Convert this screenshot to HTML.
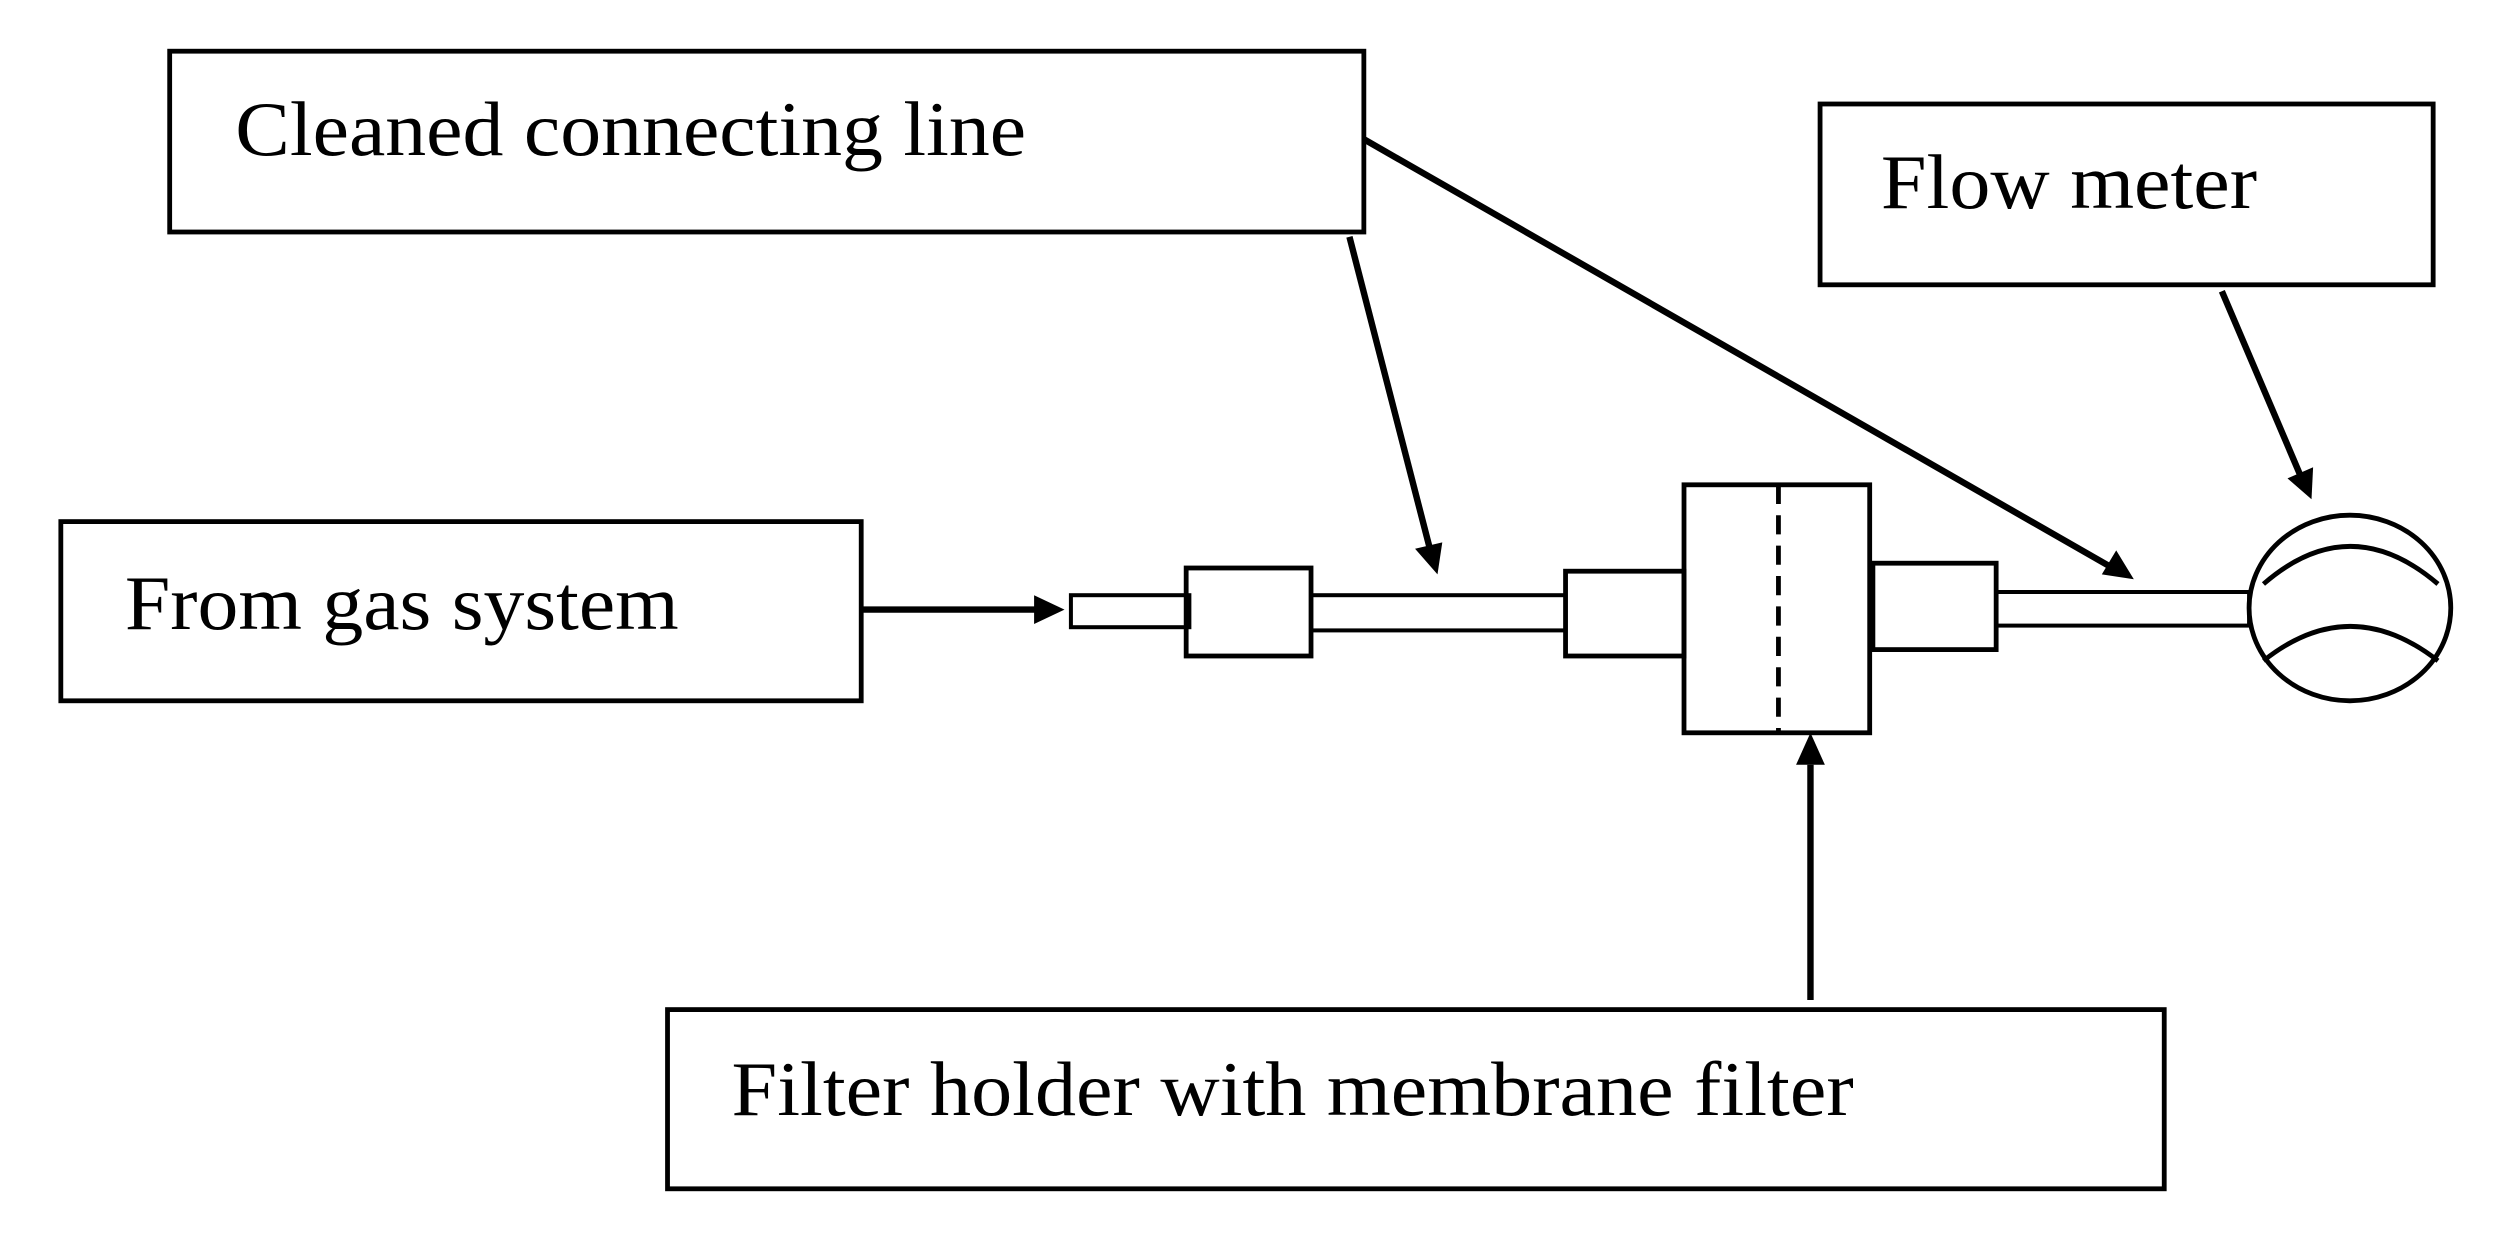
<!DOCTYPE html>
<html><head><meta charset="utf-8"><style>
html,body{margin:0;padding:0;background:#fff;}
svg{display:block;}
text{font-family:"Liberation Serif",serif;font-size:48px;fill:#000;}
</style></head><body>
<svg width="2510" height="1256" viewBox="0 0 1568 785" preserveAspectRatio="none" xmlns="http://www.w3.org/2000/svg">
<g fill="none" stroke="#000" stroke-width="3">
<rect x="106" y="32" width="746" height="113"/>
<rect x="1137" y="65" width="383" height="113"/>
<rect x="38" y="326" width="500" height="112"/>
<rect x="417" y="631" width="935" height="112"/>
<rect x="669" y="372" width="74" height="20" stroke-width="2.5"/>
<rect x="741" y="355" width="78" height="55"/>
<rect x="819" y="372" width="159" height="22" stroke-width="2.5"/>
<rect x="978" y="357" width="74" height="53"/>
<rect x="1052" y="303" width="116" height="155"/>
<line x1="1111" y1="303" x2="1111" y2="458" stroke-dasharray="12,7"/>
<rect x="1170" y="352" width="77" height="54"/>
<rect x="1247" y="370" width="158" height="21" stroke-width="2.5"/>
<ellipse cx="1468" cy="380" rx="63" ry="58"/>
<path d="M1414 365 Q1468 318 1523 365"/>
<path d="M1414 413 Q1468 370 1523 413"/>
<line x1="538" y1="381" x2="650" y2="381" stroke-width="4"/>
<line x1="843" y1="148" x2="893" y2="342" stroke-width="4"/>
<line x1="852" y1="87" x2="1318" y2="354" stroke-width="4"/>
<line x1="1388" y1="182" x2="1437" y2="297" stroke-width="4"/>
<line x1="1131" y1="625" x2="1131" y2="478" stroke-width="4"/>
</g>
<g fill="#000">
<polygon points="665,381 646,372 646,390"/>
<polygon points="898,359 884,343 901,339"/>
<polygon points="1333,362 1313,359 1322,344"/>
<polygon points="1444,312 1429,299 1445,292"/>
<polygon points="1131,458 1122,478 1140,478"/>
</g>
<text x="147" y="97" textLength="494" lengthAdjust="spacingAndGlyphs">Cleaned connecting line</text>
<text x="1175" y="130" textLength="235" lengthAdjust="spacingAndGlyphs">Flow meter</text>
<text x="78" y="393" textLength="346" lengthAdjust="spacingAndGlyphs">From gas system</text>
<text x="457" y="697" textLength="701" lengthAdjust="spacingAndGlyphs">Filter holder with membrane filter</text>
</svg>
</body></html>
